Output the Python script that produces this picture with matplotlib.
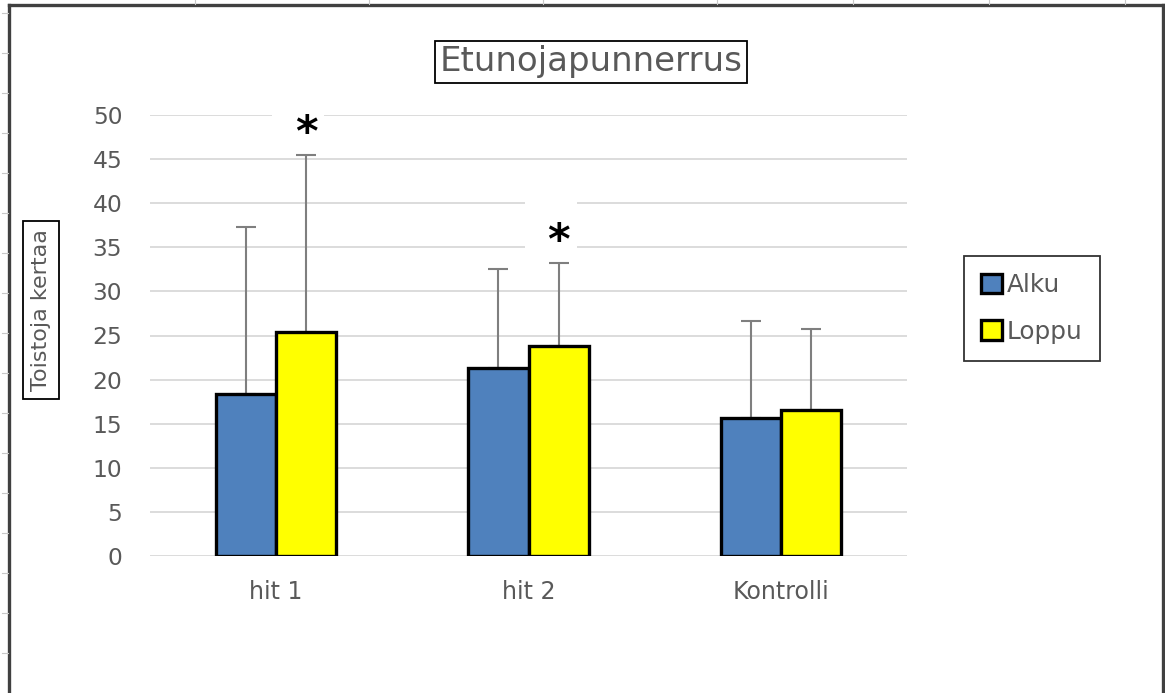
import numpy as np
import matplotlib.pyplot as plt
from matplotlib.lines import Line2D
from matplotlib.patches import Rectangle
from matplotlib.transforms import ScaledTranslation

# ===================== Data =====================
categories = ["hit 1", "hit 2", "Kontrolli"]
series_labels = ["Alku", "Loppu"]
alku_mean = [18.4, 21.3, 15.6]
loppu_mean = [25.4, 23.8, 16.5]
alku_sd = [18.9, 11.2, 11.0]
loppu_sd = [20.1, 9.4, 9.2]
# asterisk marks: (category index, series index, y position)
star_marks = [(0, 1, 48.5), (1, 1, 36.3)]

title = "Etunojapunnerrus"
ylabel = "Toistoja kertaa"
yticks = np.arange(0, 51, 5)

# ===================== Styling =====================
plt.rcParams["font.family"] = ["DejaVu Sans"]
text_gray = "#595959"
grid_gray = "#d9d9d9"
err_gray = "#7f7f7f"
series_colors = ["#4f81bd", "#ffff00"]

W, H = 1165, 693
fig = plt.figure(figsize=(W / 100, H / 100), dpi=100)

# plot area in pixel coordinates of the screenshot
px_left, px_right, px_top, px_bottom = 150, 907, 115, 556
ax = fig.add_axes([px_left / W, 1 - px_bottom / H,
                   (px_right - px_left) / W, (px_bottom - px_top) / H])

x = np.arange(len(categories))
bar_w = 0.238
means = [alku_mean, loppu_mean]
sds = [alku_sd, loppu_sd]

for i, (lbl, col) in enumerate(zip(series_labels, series_colors)):
    xs = x + (i - 0.5) * bar_w
    ax.bar(xs, means[i], width=bar_w, color=col, edgecolor="black",
           linewidth=2.4, label=lbl, zorder=3)
    ax.errorbar(xs, means[i], yerr=[np.zeros(len(x)), sds[i]], fmt="none",
                ecolor=err_gray, elinewidth=1.5, capsize=7, capthick=1.5,
                zorder=2)

# asterisks sit in small white text boxes that break the gridlines
for ci, si, yv in star_marks:
    sx = x[ci] + (si - 0.5) * bar_w
    trans = fig.dpi_scale_trans + ScaledTranslation(sx, yv, ax.transData)
    ax.add_patch(Rectangle((-0.34, -0.22), 0.52, 0.58, transform=trans,
                           facecolor="white", edgecolor="none", zorder=1))
    ax.annotate("*", xy=(sx, yv), xytext=(0, -6), textcoords="offset pixels",
                fontsize=31, fontweight="bold", ha="center", va="center",
                color="black", zorder=4)

ax.set_xlim(-0.5, len(categories) - 0.5)
ax.set_ylim(0, 50)
ax.set_yticks(yticks)
ax.set_xticks(x, categories)
ax.yaxis.grid(True, color=grid_gray, linewidth=1.3)
ax.set_axisbelow(True)
for sp in ax.spines.values():
    sp.set_visible(False)
ax.tick_params(axis="both", length=0, labelcolor=text_gray)
ax.tick_params(axis="y", pad=20, labelsize=16.8)
ax.tick_params(axis="x", pad=17, labelsize=17)

# title with frame
fig.text(591 / W, 1 - 62 / H, title, ha="center", va="center",
         fontsize=24.5, color=text_gray,
         bbox=dict(boxstyle="square,pad=0.12", facecolor="white",
                   edgecolor="black", linewidth=1.3))

# y label with frame
fig.text(41 / W, 1 - 310 / H, ylabel, ha="center", va="center",
         rotation=90, fontsize=16, color=text_gray,
         bbox=dict(boxstyle="square,pad=0.35", facecolor="white",
                   edgecolor="black", linewidth=1.3))

leg = ax.legend(loc="upper left", bbox_to_anchor=(964 / W, 1 - 256 / H),
                bbox_transform=fig.transFigure, fontsize=17.8,
                frameon=True, fancybox=False, edgecolor="black",
                handlelength=0.82, handleheight=0.82, handletextpad=0.2,
                labelspacing=0.9, borderpad=0.7, borderaxespad=0,
                labelcolor=text_gray)
leg.get_frame().set_linewidth(1.3)

# chart frame and spreadsheet grid around it
def px_line(xs, ys, color, lw):
    fig.add_artist(Line2D([v / W for v in xs], [1 - v / H for v in ys],
                          color=color, linewidth=lw))

frame_col = "#404040"
px_line([9, 9], [5, H], frame_col, 2.4)
px_line([9, 1163], [5, 5], frame_col, 2.4)
px_line([1163, 1163], [5, H], frame_col, 2.4)
for cx in [195, 369, 543, 717, 853, 989, 1125]:
    px_line([cx, cx], [0, 4], "#c8c8c8", 0.8)
for ry in range(13, H, 40):
    px_line([2, 8], [ry, ry], "#c8c8c8", 0.8)

fig.savefig("out.png", dpi=100)
